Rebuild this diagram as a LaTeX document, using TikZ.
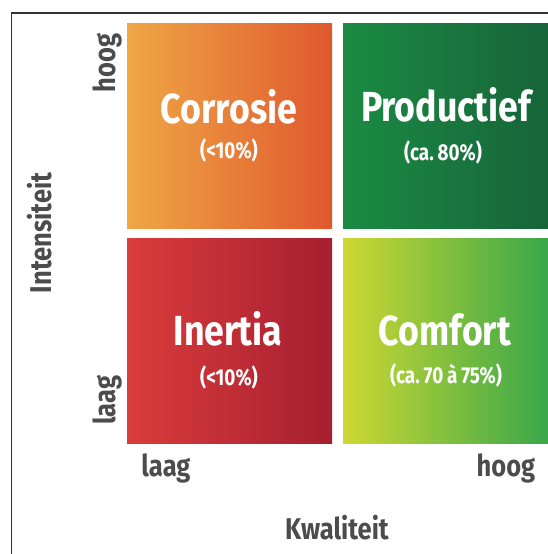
\documentclass[tikz,border=0pt]{standalone}
\usepackage{fontspec}
\setmainfont{Fira Sans}
\newfontfamily\condfont{Fira Sans}[FakeStretch=0.85]
\newfontfamily\subfont{Fira Sans}[FakeStretch=0.82]
\begin{document}
\begin{tikzpicture}[x=1pt,y=-1pt,
  frameline/.style={draw=black!80,line width=1.4pt},
  quadtitle/.style={text=white,font=\condfont\bfseries\fontsize{42}{44}\selectfont,anchor=base,inner sep=0pt},
  quadsub/.style={text=white,font=\subfont\bfseries\fontsize{23}{25}\selectfont,anchor=center,inner sep=0pt},
  axislabel/.style={text=black!70,font=\condfont\bfseries\fontsize{30}{32}\selectfont,inner sep=0pt}]
  \useasboundingbox (0,0) rectangle (548,554);
  \fill[white] (0,0) rectangle (548,554);
  % frame: only the top and left edges fall inside the page
  \draw[frameline] (548,13) -- (11.5,13) -- (11.5,554);
  % four quadrants, each a horizontal gradient
  \shade[left color={rgb,255:red,239;green,167;blue,69},right color={rgb,255:red,224;green,88;blue,46}]
    (127,23) rectangle (332,228);
  \shade[left color={rgb,255:red,27;green,139;blue,67},right color={rgb,255:red,23;green,100;blue,57}]
    (343,23) rectangle (548,228);
  \shade[left color={rgb,255:red,218;green,60;blue,59},right color={rgb,255:red,166;green,31;blue,48}]
    (127,238) rectangle (332,443);
  \shade[left color={rgb,255:red,205;green,216;blue,50},right color={rgb,255:red,56;green,167;blue,74}]
    (343,238) rectangle (548,443);
  % quadrant texts
  \node[quadtitle] (tl) at (229,123) {Corrosie};
  \node[quadsub] (tls) at (229,150) {(<10\%)};
  \node[quadtitle] (tr) at (446,121) {Productief};
  \node[quadsub] (trs) at (443,152) {(ca.\,80\%)};
  \node[quadtitle] (bl) at (228,345) {Inertia};
  \node[quadsub] (bls) at (229,377) {(<10\%)};
  \node[quadtitle] (br) at (445,345) {Comfort};
  \node[quadsub] (brs) at (446,375) {(ca.\,70\,à\,75\%)};
  % axis labels
  \node[axislabel,rotate=90] (yhigh) at (107,63) {hoog};
  \node[axislabel,rotate=90] (ylow) at (107,400) {laag};
  \node[axislabel,rotate=90] (ytitle) at (40,233) {Intensiteit};
  \node[axislabel] (xlow) at (166,468) {laag};
  \node[axislabel] (xhigh) at (506,468) {hoog};
  \node[axislabel] (xtitle) at (337,528) {Kwaliteit};
\end{tikzpicture}
\end{document}
